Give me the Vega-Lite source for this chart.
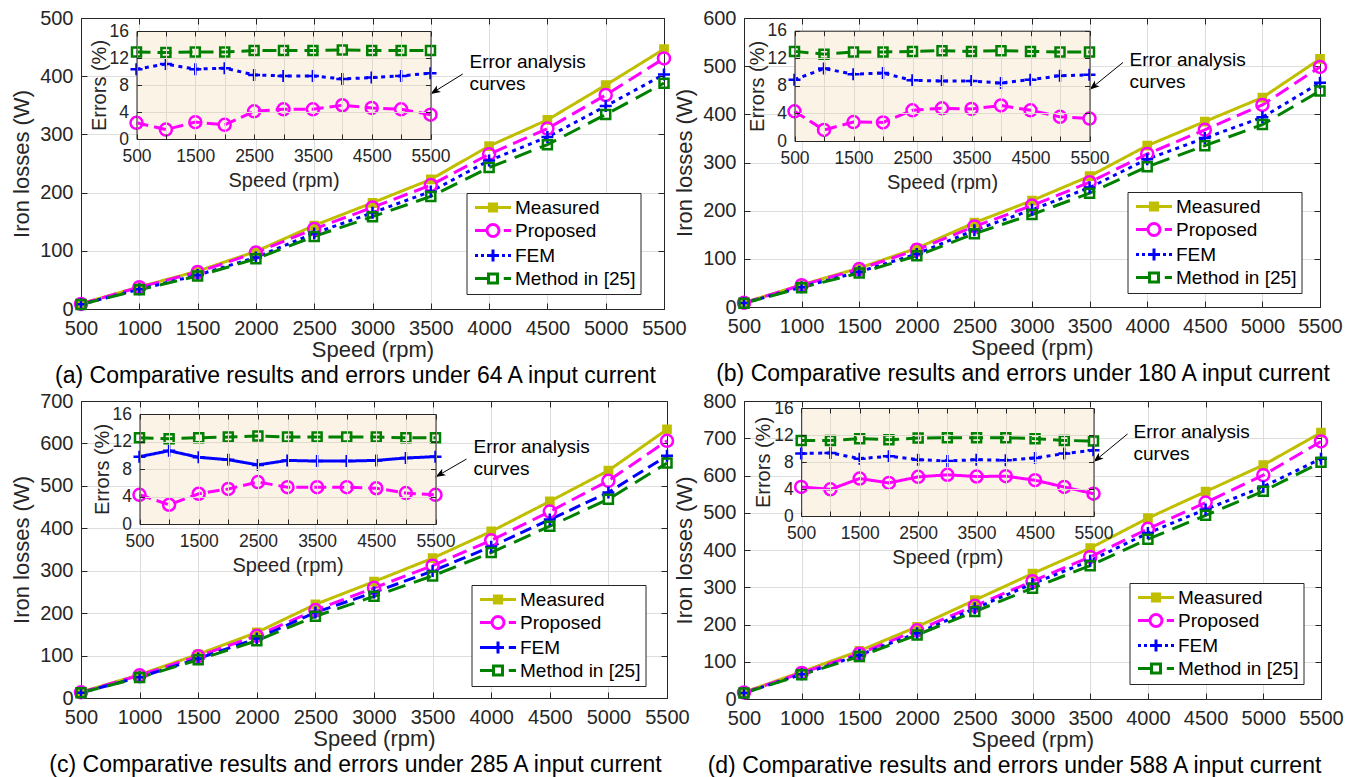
{
  "$schema": "https://vega.github.io/schema/vega-lite/v6.json",
  "background": "white",
  "padding": {"left": 10, "top": 8, "right": 0, "bottom": 0},
  "config": {
    "font": "Liberation Sans",
    "view": {"stroke": null, "fill": "#f6f6f6"},
    "axis": {
      "labelFont": "Liberation Sans", "titleFont": "Liberation Sans",
      "labelColor": "#262626", "titleColor": "#262626", "titleFontWeight": "normal",
      "domainColor": "#262626", "tickColor": "#262626", "gridColor": "#dedede",
      "domainWidth": 1, "tickWidth": 1, "gridWidth": 1,
      "labelFlush": false, "labelOverlap": false
    },
    "title": {"font": "Liberation Sans", "fontSize": 23, "fontWeight": "normal", "color": "#000000"},
    "legend": {
      "orient": "none", "title": null, "fillColor": "#ffffff", "strokeColor": "#262626",
      "padding": 5, "labelFont": "Liberation Sans", "labelFontSize": 19, "labelColor": "#000000",
      "symbolSize": 144, "symbolStrokeWidth": 3, "symbolOffset": 12, "labelOffset": 12.5,
      "rowPadding": 0, "labelLimit": 400, "zindex": 1
    }
  },
  "datasets": {
    "losses": [
      {"panel":"a","series":"Measured","speed":500,"loss":9},{"panel":"a","series":"Measured","speed":1000,"loss":38},{"panel":"a","series":"Measured","speed":1500,"loss":65},{"panel":"a","series":"Measured","speed":2000,"loss":99},{"panel":"a","series":"Measured","speed":2500,"loss":143.5},{"panel":"a","series":"Measured","speed":3000,"loss":182.5},{"panel":"a","series":"Measured","speed":3500,"loss":222.7},{"panel":"a","series":"Measured","speed":4000,"loss":280},{"panel":"a","series":"Measured","speed":4500,"loss":325},{"panel":"a","series":"Measured","speed":5000,"loss":384.6},{"panel":"a","series":"Measured","speed":5500,"loss":446.6},
      {"panel":"a","series":"Proposed","speed":500,"loss":8.8},{"panel":"a","series":"Proposed","speed":1000,"loss":37.5},{"panel":"a","series":"Proposed","speed":1500,"loss":63.4},{"panel":"a","series":"Proposed","speed":2000,"loss":96.9},{"panel":"a","series":"Proposed","speed":2500,"loss":137.6},{"panel":"a","series":"Proposed","speed":3000,"loss":174.5},{"panel":"a","series":"Proposed","speed":3500,"loss":212.9},{"panel":"a","series":"Proposed","speed":4000,"loss":266},{"panel":"a","series":"Proposed","speed":4500,"loss":310},{"panel":"a","series":"Proposed","speed":5000,"loss":367.7},{"panel":"a","series":"Proposed","speed":5500,"loss":430.5},
      {"panel":"a","series":"FEM","speed":500,"loss":8.1},{"panel":"a","series":"FEM","speed":1000,"loss":33.8},{"panel":"a","series":"FEM","speed":1500,"loss":58.3},{"panel":"a","series":"FEM","speed":2000,"loss":88.6},{"panel":"a","series":"FEM","speed":2500,"loss":129.9},{"panel":"a","series":"FEM","speed":3000,"loss":165.4},{"panel":"a","series":"FEM","speed":3500,"loss":201.9},{"panel":"a","series":"FEM","speed":4000,"loss":255.1},{"panel":"a","series":"FEM","speed":4500,"loss":295.4},{"panel":"a","series":"FEM","speed":5000,"loss":348.6},{"panel":"a","series":"FEM","speed":5500,"loss":403.1},
      {"panel":"a","series":"Method in [25]","speed":500,"loss":7.8},{"panel":"a","series":"Method in [25]","speed":1000,"loss":33.1},{"panel":"a","series":"Method in [25]","speed":1500,"loss":56.6},{"panel":"a","series":"Method in [25]","speed":2000,"loss":86.2},{"panel":"a","series":"Method in [25]","speed":2500,"loss":124.7},{"panel":"a","series":"Method in [25]","speed":3000,"loss":158.6},{"panel":"a","series":"Method in [25]","speed":3500,"loss":193.5},{"panel":"a","series":"Method in [25]","speed":4000,"loss":243},{"panel":"a","series":"Method in [25]","speed":4500,"loss":282.4},{"panel":"a","series":"Method in [25]","speed":5000,"loss":334.2},{"panel":"a","series":"Method in [25]","speed":5500,"loss":388.1},
      {"panel":"b","series":"Measured","speed":500,"loss":9},{"panel":"b","series":"Measured","speed":1000,"loss":46},{"panel":"b","series":"Measured","speed":1500,"loss":81},{"panel":"b","series":"Measured","speed":2000,"loss":122},{"panel":"b","series":"Measured","speed":2500,"loss":175},{"panel":"b","series":"Measured","speed":3000,"loss":221},{"panel":"b","series":"Measured","speed":3500,"loss":271.6},{"panel":"b","series":"Measured","speed":4000,"loss":335},{"panel":"b","series":"Measured","speed":4500,"loss":385},{"panel":"b","series":"Measured","speed":5000,"loss":434.8},{"panel":"b","series":"Measured","speed":5500,"loss":515},
      {"panel":"b","series":"Proposed","speed":500,"loss":8.6},{"panel":"b","series":"Proposed","speed":1000,"loss":45.3},{"panel":"b","series":"Proposed","speed":1500,"loss":78.8},{"panel":"b","series":"Proposed","speed":2000,"loss":118.7},{"panel":"b","series":"Proposed","speed":2500,"loss":167.2},{"panel":"b","series":"Proposed","speed":3000,"loss":210.5},{"panel":"b","series":"Proposed","speed":3500,"loss":259},{"panel":"b","series":"Proposed","speed":4000,"loss":317.7},{"panel":"b","series":"Proposed","speed":4500,"loss":367.9},{"panel":"b","series":"Proposed","speed":5000,"loss":419.6},{"panel":"b","series":"Proposed","speed":5500,"loss":498.3},
      {"panel":"b","series":"FEM","speed":500,"loss":8.2},{"panel":"b","series":"FEM","speed":1000,"loss":41.2},{"panel":"b","series":"FEM","speed":1500,"loss":73.1},{"panel":"b","series":"FEM","speed":2000,"loss":110},{"panel":"b","series":"FEM","speed":2500,"loss":159.6},{"panel":"b","series":"FEM","speed":3000,"loss":201.8},{"panel":"b","series":"FEM","speed":3500,"loss":248},{"panel":"b","series":"FEM","speed":4000,"loss":306.9},{"panel":"b","series":"FEM","speed":4500,"loss":350.7},{"panel":"b","series":"FEM","speed":5000,"loss":393.7},{"panel":"b","series":"FEM","speed":5500,"loss":465.6},
      {"panel":"b","series":"Method in [25]","speed":500,"loss":7.8},{"panel":"b","series":"Method in [25]","speed":1000,"loss":40.2},{"panel":"b","series":"Method in [25]","speed":1500,"loss":70.5},{"panel":"b","series":"Method in [25]","speed":2000,"loss":106.3},{"panel":"b","series":"Method in [25]","speed":2500,"loss":152.3},{"panel":"b","series":"Method in [25]","speed":3000,"loss":192},{"panel":"b","series":"Method in [25]","speed":3500,"loss":236.3},{"panel":"b","series":"Method in [25]","speed":4000,"loss":291.1},{"panel":"b","series":"Method in [25]","speed":4500,"loss":335},{"panel":"b","series":"Method in [25]","speed":5000,"loss":378.7},{"panel":"b","series":"Method in [25]","speed":5500,"loss":448.6},
      {"panel":"c","series":"Measured","speed":500,"loss":14},{"panel":"c","series":"Measured","speed":1000,"loss":55},{"panel":"c","series":"Measured","speed":1500,"loss":103},{"panel":"c","series":"Measured","speed":2000,"loss":154.5},{"panel":"c","series":"Measured","speed":2500,"loss":220.7},{"panel":"c","series":"Measured","speed":3000,"loss":274.3},{"panel":"c","series":"Measured","speed":3500,"loss":329.5},{"panel":"c","series":"Measured","speed":4000,"loss":392.6},{"panel":"c","series":"Measured","speed":4500,"loss":463.5},{"panel":"c","series":"Measured","speed":5000,"loss":536},{"panel":"c","series":"Measured","speed":5500,"loss":633},
      {"panel":"c","series":"Proposed","speed":500,"loss":13.4},{"panel":"c","series":"Proposed","speed":1000,"loss":53.5},{"panel":"c","series":"Proposed","speed":1500,"loss":98.5},{"panel":"c","series":"Proposed","speed":2000,"loss":146.6},{"panel":"c","series":"Proposed","speed":2500,"loss":207.2},{"panel":"c","series":"Proposed","speed":3000,"loss":259.6},{"panel":"c","series":"Proposed","speed":3500,"loss":311.9},{"panel":"c","series":"Proposed","speed":4000,"loss":371.6},{"panel":"c","series":"Proposed","speed":4500,"loss":439.4},{"panel":"c","series":"Proposed","speed":5000,"loss":511.9},{"panel":"c","series":"Proposed","speed":5500,"loss":606.1},
      {"panel":"c","series":"FEM","speed":500,"loss":12.6},{"panel":"c","series":"FEM","speed":1000,"loss":49.1},{"panel":"c","series":"FEM","speed":1500,"loss":93},{"panel":"c","series":"FEM","speed":2000,"loss":140},{"panel":"c","series":"FEM","speed":2500,"loss":201.7},{"panel":"c","series":"FEM","speed":3000,"loss":248.9},{"panel":"c","series":"FEM","speed":3500,"loss":299.3},{"panel":"c","series":"FEM","speed":4000,"loss":356.7},{"panel":"c","series":"FEM","speed":4500,"loss":420.6},{"panel":"c","series":"FEM","speed":5000,"loss":484.5},{"panel":"c","series":"FEM","speed":5500,"loss":571},
      {"panel":"c","series":"Method in [25]","speed":500,"loss":12.2},{"panel":"c","series":"Method in [25]","speed":1000,"loss":48.2},{"panel":"c","series":"Method in [25]","speed":1500,"loss":90.1},{"panel":"c","series":"Method in [25]","speed":2000,"loss":135},{"panel":"c","series":"Method in [25]","speed":2500,"loss":192.5},{"panel":"c","series":"Method in [25]","speed":3000,"loss":239.6},{"panel":"c","series":"Method in [25]","speed":3500,"loss":287.8},{"panel":"c","series":"Method in [25]","speed":4000,"loss":342.9},{"panel":"c","series":"Method in [25]","speed":4500,"loss":404.9},{"panel":"c","series":"Method in [25]","speed":5000,"loss":468.7},{"panel":"c","series":"Method in [25]","speed":5500,"loss":553.6},
      {"panel":"d","series":"Measured","speed":500,"loss":18},{"panel":"d","series":"Measured","speed":1000,"loss":73},{"panel":"d","series":"Measured","speed":1500,"loss":129},{"panel":"d","series":"Measured","speed":2000,"loss":194},{"panel":"d","series":"Measured","speed":2500,"loss":265.5},{"panel":"d","series":"Measured","speed":3000,"loss":336.7},{"panel":"d","series":"Measured","speed":3500,"loss":405},{"panel":"d","series":"Measured","speed":4000,"loss":485.5},{"panel":"d","series":"Measured","speed":4500,"loss":556.8},{"panel":"d","series":"Measured","speed":5000,"loss":628},{"panel":"d","series":"Measured","speed":5500,"loss":715},
      {"panel":"d","series":"Proposed","speed":500,"loss":17.2},{"panel":"d","series":"Proposed","speed":1000,"loss":70.1},{"panel":"d","series":"Proposed","speed":1500,"loss":121.8},{"panel":"d","series":"Proposed","speed":2000,"loss":184.5},{"panel":"d","series":"Proposed","speed":2500,"loss":250.1},{"panel":"d","series":"Proposed","speed":3000,"loss":316.2},{"panel":"d","series":"Proposed","speed":3500,"loss":381.3},{"panel":"d","series":"Proposed","speed":4000,"loss":456.9},{"panel":"d","series":"Proposed","speed":4500,"loss":527.3},{"panel":"d","series":"Proposed","speed":5000,"loss":601},{"panel":"d","series":"Proposed","speed":5500,"loss":691.4},
      {"panel":"d","series":"FEM","speed":500,"loss":16.3},{"panel":"d","series":"FEM","speed":1000,"loss":66.2},{"panel":"d","series":"FEM","speed":1500,"loss":118},{"panel":"d","series":"FEM","speed":2000,"loss":176.8},{"panel":"d","series":"FEM","speed":2500,"loss":243.3},{"panel":"d","series":"FEM","speed":3000,"loss":309.3},{"panel":"d","series":"FEM","speed":3500,"loss":371.2},{"panel":"d","series":"FEM","speed":4000,"loss":445.4},{"panel":"d","series":"FEM","speed":4500,"loss":508.9},{"panel":"d","series":"FEM","speed":5000,"loss":569.9},{"panel":"d","series":"FEM","speed":5500,"loss":645.3},
      {"panel":"d","series":"Method in [25]","speed":500,"loss":16},{"panel":"d","series":"Method in [25]","speed":1000,"loss":64.8},{"panel":"d","series":"Method in [25]","speed":1500,"loss":114.2},{"panel":"d","series":"Method in [25]","speed":2000,"loss":172.1},{"panel":"d","series":"Method in [25]","speed":2500,"loss":234.8},{"panel":"d","series":"Method in [25]","speed":3000,"loss":297.6},{"panel":"d","series":"Method in [25]","speed":3500,"loss":358},{"panel":"d","series":"Method in [25]","speed":4000,"loss":429.1},{"panel":"d","series":"Method in [25]","speed":4500,"loss":493},{"panel":"d","series":"Method in [25]","speed":5000,"loss":557.7},{"panel":"d","series":"Method in [25]","speed":5500,"loss":635.6}
    ],
    "errors": [
      {"panel":"a","series":"Proposed","speed":500,"err":2.4},{"panel":"a","series":"Proposed","speed":1000,"err":1.4},{"panel":"a","series":"Proposed","speed":1500,"err":2.5},{"panel":"a","series":"Proposed","speed":2000,"err":2.1},{"panel":"a","series":"Proposed","speed":2500,"err":4.1},{"panel":"a","series":"Proposed","speed":3000,"err":4.4},{"panel":"a","series":"Proposed","speed":3500,"err":4.4},{"panel":"a","series":"Proposed","speed":4000,"err":5.0},{"panel":"a","series":"Proposed","speed":4500,"err":4.6},{"panel":"a","series":"Proposed","speed":5000,"err":4.4},{"panel":"a","series":"Proposed","speed":5500,"err":3.6},
      {"panel":"a","series":"FEM","speed":500,"err":10.35},{"panel":"a","series":"FEM","speed":1000,"err":11.1},{"panel":"a","series":"FEM","speed":1500,"err":10.35},{"panel":"a","series":"FEM","speed":2000,"err":10.5},{"panel":"a","series":"FEM","speed":2500,"err":9.5},{"panel":"a","series":"FEM","speed":3000,"err":9.35},{"panel":"a","series":"FEM","speed":3500,"err":9.35},{"panel":"a","series":"FEM","speed":4000,"err":8.9},{"panel":"a","series":"FEM","speed":4500,"err":9.1},{"panel":"a","series":"FEM","speed":5000,"err":9.35},{"panel":"a","series":"FEM","speed":5500,"err":9.75},
      {"panel":"a","series":"Method in [25]","speed":500,"err":12.9},{"panel":"a","series":"Method in [25]","speed":1000,"err":12.8},{"panel":"a","series":"Method in [25]","speed":1500,"err":12.9},{"panel":"a","series":"Method in [25]","speed":2000,"err":12.9},{"panel":"a","series":"Method in [25]","speed":2500,"err":13.1},{"panel":"a","series":"Method in [25]","speed":3000,"err":13.1},{"panel":"a","series":"Method in [25]","speed":3500,"err":13.1},{"panel":"a","series":"Method in [25]","speed":4000,"err":13.2},{"panel":"a","series":"Method in [25]","speed":4500,"err":13.1},{"panel":"a","series":"Method in [25]","speed":5000,"err":13.1},{"panel":"a","series":"Method in [25]","speed":5500,"err":13.1},
      {"panel":"b","series":"Proposed","speed":500,"err":4.3},{"panel":"b","series":"Proposed","speed":1000,"err":1.6},{"panel":"b","series":"Proposed","speed":1500,"err":2.75},{"panel":"b","series":"Proposed","speed":2000,"err":2.7},{"panel":"b","series":"Proposed","speed":2500,"err":4.45},{"panel":"b","series":"Proposed","speed":3000,"err":4.75},{"panel":"b","series":"Proposed","speed":3500,"err":4.65},{"panel":"b","series":"Proposed","speed":4000,"err":5.15},{"panel":"b","series":"Proposed","speed":4500,"err":4.45},{"panel":"b","series":"Proposed","speed":5000,"err":3.5},{"panel":"b","series":"Proposed","speed":5500,"err":3.25},
      {"panel":"b","series":"FEM","speed":500,"err":8.9},{"panel":"b","series":"FEM","speed":1000,"err":10.5},{"panel":"b","series":"FEM","speed":1500,"err":9.7},{"panel":"b","series":"FEM","speed":2000,"err":9.85},{"panel":"b","series":"FEM","speed":2500,"err":8.8},{"panel":"b","series":"FEM","speed":3000,"err":8.7},{"panel":"b","series":"FEM","speed":3500,"err":8.7},{"panel":"b","series":"FEM","speed":4000,"err":8.4},{"panel":"b","series":"FEM","speed":4500,"err":8.9},{"panel":"b","series":"FEM","speed":5000,"err":9.45},{"panel":"b","series":"FEM","speed":5500,"err":9.6},
      {"panel":"b","series":"Method in [25]","speed":500,"err":13.0},{"panel":"b","series":"Method in [25]","speed":1000,"err":12.6},{"panel":"b","series":"Method in [25]","speed":1500,"err":12.9},{"panel":"b","series":"Method in [25]","speed":2000,"err":12.9},{"panel":"b","series":"Method in [25]","speed":2500,"err":13.0},{"panel":"b","series":"Method in [25]","speed":3000,"err":13.1},{"panel":"b","series":"Method in [25]","speed":3500,"err":13.0},{"panel":"b","series":"Method in [25]","speed":4000,"err":13.1},{"panel":"b","series":"Method in [25]","speed":4500,"err":13.0},{"panel":"b","series":"Method in [25]","speed":5000,"err":12.9},{"panel":"b","series":"Method in [25]","speed":5500,"err":12.9},
      {"panel":"c","series":"Proposed","speed":500,"err":4.25},{"panel":"c","series":"Proposed","speed":1000,"err":2.8},{"panel":"c","series":"Proposed","speed":1500,"err":4.4},{"panel":"c","series":"Proposed","speed":2000,"err":5.1},{"panel":"c","series":"Proposed","speed":2500,"err":6.1},{"panel":"c","series":"Proposed","speed":3000,"err":5.35},{"panel":"c","series":"Proposed","speed":3500,"err":5.35},{"panel":"c","series":"Proposed","speed":4000,"err":5.35},{"panel":"c","series":"Proposed","speed":4500,"err":5.2},{"panel":"c","series":"Proposed","speed":5000,"err":4.5},{"panel":"c","series":"Proposed","speed":5500,"err":4.25},
      {"panel":"c","series":"FEM","speed":500,"err":9.8},{"panel":"c","series":"FEM","speed":1000,"err":10.65},{"panel":"c","series":"FEM","speed":1500,"err":9.7},{"panel":"c","series":"FEM","speed":2000,"err":9.35},{"panel":"c","series":"FEM","speed":2500,"err":8.6},{"panel":"c","series":"FEM","speed":3000,"err":9.25},{"panel":"c","series":"FEM","speed":3500,"err":9.15},{"panel":"c","series":"FEM","speed":4000,"err":9.15},{"panel":"c","series":"FEM","speed":4500,"err":9.25},{"panel":"c","series":"FEM","speed":5000,"err":9.6},{"panel":"c","series":"FEM","speed":5500,"err":9.8},
      {"panel":"c","series":"Method in [25]","speed":500,"err":12.55},{"panel":"c","series":"Method in [25]","speed":1000,"err":12.4},{"panel":"c","series":"Method in [25]","speed":1500,"err":12.55},{"panel":"c","series":"Method in [25]","speed":2000,"err":12.65},{"panel":"c","series":"Method in [25]","speed":2500,"err":12.8},{"panel":"c","series":"Method in [25]","speed":3000,"err":12.65},{"panel":"c","series":"Method in [25]","speed":3500,"err":12.65},{"panel":"c","series":"Method in [25]","speed":4000,"err":12.65},{"panel":"c","series":"Method in [25]","speed":4500,"err":12.65},{"panel":"c","series":"Method in [25]","speed":5000,"err":12.55},{"panel":"c","series":"Method in [25]","speed":5500,"err":12.55},
      {"panel":"d","series":"Proposed","speed":500,"err":4.3},{"panel":"d","series":"Proposed","speed":1000,"err":3.95},{"panel":"d","series":"Proposed","speed":1500,"err":5.55},{"panel":"d","series":"Proposed","speed":2000,"err":4.9},{"panel":"d","series":"Proposed","speed":2500,"err":5.8},{"panel":"d","series":"Proposed","speed":3000,"err":6.1},{"panel":"d","series":"Proposed","speed":3500,"err":5.85},{"panel":"d","series":"Proposed","speed":4000,"err":5.9},{"panel":"d","series":"Proposed","speed":4500,"err":5.3},{"panel":"d","series":"Proposed","speed":5000,"err":4.3},{"panel":"d","series":"Proposed","speed":5500,"err":3.3},
      {"panel":"d","series":"FEM","speed":500,"err":9.25},{"panel":"d","series":"FEM","speed":1000,"err":9.35},{"panel":"d","series":"FEM","speed":1500,"err":8.5},{"panel":"d","series":"FEM","speed":2000,"err":8.85},{"panel":"d","series":"FEM","speed":2500,"err":8.35},{"panel":"d","series":"FEM","speed":3000,"err":8.15},{"panel":"d","series":"FEM","speed":3500,"err":8.35},{"panel":"d","series":"FEM","speed":4000,"err":8.25},{"panel":"d","series":"FEM","speed":4500,"err":8.6},{"panel":"d","series":"FEM","speed":5000,"err":9.25},{"panel":"d","series":"FEM","speed":5500,"err":9.75},
      {"panel":"d","series":"Method in [25]","speed":500,"err":11.2},{"panel":"d","series":"Method in [25]","speed":1000,"err":11.2},{"panel":"d","series":"Method in [25]","speed":1500,"err":11.45},{"panel":"d","series":"Method in [25]","speed":2000,"err":11.3},{"panel":"d","series":"Method in [25]","speed":2500,"err":11.55},{"panel":"d","series":"Method in [25]","speed":3000,"err":11.6},{"panel":"d","series":"Method in [25]","speed":3500,"err":11.6},{"panel":"d","series":"Method in [25]","speed":4000,"err":11.6},{"panel":"d","series":"Method in [25]","speed":4500,"err":11.45},{"panel":"d","series":"Method in [25]","speed":5000,"err":11.2},{"panel":"d","series":"Method in [25]","speed":5500,"err":11.1}
    ]
  },
  "columns": 2,
  "spacing": {"row": 92, "column": 77},
  "bounds": "flush",
  "resolve": {"scale": {"color": "independent", "stroke": "independent", "fill": "independent", "shape": "independent", "strokeDash": "independent"}},
  "concat": [
    {
      "width": 583, "height": 291,
      "title": {"text": "(a) Comparative results and errors under 64 A input current", "orient": "bottom", "anchor": "middle", "frame": "group", "offset": 5, "dx": -17},
      "resolve": {"scale": {"x": "independent", "y": "independent", "color": "independent", "stroke": "independent", "fill": "independent", "shape": "independent", "strokeDash": "independent"}, "axis": {"x": "independent", "y": "independent"}},
      "layer": [
        {
          "resolve": {"scale": {"color": "independent", "stroke": "independent", "fill": "independent", "shape": "independent", "strokeDash": "independent"}, "axis": {"x": "independent", "y": "independent"}},
          "layer": [
            {
              "data": {"name": "losses"},
              "transform": [{"filter": "datum.panel === 'a'"}],
              "mark": {"type": "line", "strokeWidth": 3},
              "encoding": {
                "x": {"field": "speed", "type": "quantitative", "scale": {"domain": [500, 5500], "nice": false, "zero": false},
                      "axis": {"orient": "bottom", "values": [500,1000,1500,2000,2500,3000,3500,4000,4500,5000,5500], "format": "d", "title": "Speed (rpm)", "labelFontSize": 20, "titleFontSize": 22, "tickSize": -6, "labelPadding": 15, "titlePadding": 1, "grid": true}},
                "y": {"field": "loss", "type": "quantitative", "scale": {"domain": [0, 500], "nice": false},
                      "axis": {"orient": "left", "values": [0,100,200,300,400,500], "title": "Iron losses (W)", "labelFontSize": 20, "titleFontSize": 22, "tickSize": -6, "labelPadding": 14, "titlePadding": 6, "grid": true}},
                "color": {"field": "series", "type": "nominal", "scale": {"domain": ["Measured","Proposed","FEM","Method in [25]"], "range": ["#bfbf00","#ff00ff","#0000ff","#008000"]}, "legend": null},
                "strokeDash": {"field": "series", "type": "nominal", "scale": {"domain": ["Measured","Proposed","FEM","Method in [25]"], "range": [[1,0],[15,7],[4,4.5],[18,9]]}, "legend": null}
              }
            },
            {
              "data": {"name": "losses"},
              "transform": [{"filter": "datum.panel === 'a'"}],
              "mark": {"type": "point", "strokeWidth": 2.5, "size": 144, "opacity": 1},
              "encoding": {
                "x": {"field": "speed", "type": "quantitative", "scale": {"domain": [500, 5500], "nice": false, "zero": false},
                      "axis": {"orient": "top", "values": [500,1000,1500,2000,2500,3000,3500,4000,4500,5000,5500], "labels": false, "title": null, "tickSize": -6, "grid": false}},
                "y": {"field": "loss", "type": "quantitative", "scale": {"domain": [0, 500], "nice": false},
                      "axis": {"orient": "right", "values": [0,100,200,300,400,500], "labels": false, "title": null, "tickSize": -6, "grid": false}},
                "shape": {"field": "series", "type": "nominal", "scale": {"domain": ["Measured","Proposed","FEM","Method in [25]"], "range": ["M-0.6,-0.6H0.6V0.6H-0.6Z","M1,0A1,1 0 1,1 -1,0A1,1 0 1,1 1,0Z","M-1,0H1M0,-1V1","M-0.75,-0.75H0.75V0.75H-0.75Z"]}, "legend": null},
                "stroke": {"field": "series", "type": "nominal", "scale": {"domain": ["Measured","Proposed","FEM","Method in [25]"], "range": ["#bfbf00","#ff00ff","#0000ff","#008000"]}, "legend": null},
                "fill": {"field": "series", "type": "nominal", "scale": {"domain": ["Measured","Proposed","FEM","Method in [25]"], "range": ["#bfbf00","transparent","transparent","transparent"]}, "legend": null}
              }
            },
            {
              "data": {"name": "losses"},
              "transform": [{"filter": "datum.panel === 'key'"}],
              "mark": {"type": "point", "strokeWidth": 3, "size": 144, "opacity": 1},
              "encoding": {
                "color": {"field": "series", "type": "nominal", "scale": {"domain": ["Measured","Proposed","FEM","Method in [25]"], "range": ["#bfbf00","#ff00ff","#0000ff","#008000"]}, "legend": {"legendX": 385.5, "legendY": 175}},
                "shape": {"field": "series", "type": "nominal", "scale": {"domain": ["Measured","Proposed","FEM","Method in [25]"], "range": ["M-3,0H3M-0.6,-0.6H0.6V0.6H-0.6Z","M-3,0H-1M1.8,0H3M1,0A1,1 0 1,1 -1,0A1,1 0 1,1 1,0Z","M-3,0H-2.5M-2,0H-1.5M-1,0H1M0,-1V1M1.5,0H2M2.5,0H3","M-3,0H-0.75M1.8,0H3M-0.75,-0.75H0.75V0.75H-0.75Z"]}, "legend": {"legendX": 385.5, "legendY": 175}},
                "fill": {"field": "series", "type": "nominal", "scale": {"domain": ["Measured","Proposed","FEM","Method in [25]"], "range": ["#bfbf00","transparent","transparent","transparent"]}, "legend": {"legendX": 385.5, "legendY": 175}}
              }
            }
          ]
        },
        {
          "resolve": {"axis": {"x": "independent", "y": "independent"}},
          "layer": [
            {
              "data": {"values": [{}]},
              "mark": {"type": "rect", "fill": "#fcf3e7"},
              "encoding": {
                "x": {"datum": 500, "type": "quantitative", "scale": {"domain": [500, 5500], "range": [55.5, 349.5], "nice": false, "zero": false}, "axis": null},
                "x2": {"datum": 5500},
                "y": {"datum": 0, "type": "quantitative", "scale": {"domain": [0, 16], "range": [121, 13], "nice": false}, "axis": null},
                "y2": {"datum": 16}
              }
            },
            {
              "data": {"name": "errors"},
              "transform": [{"filter": "datum.panel === 'a'"}],
              "mark": {"type": "line", "strokeWidth": 3},
              "encoding": {
                "x": {"field": "speed", "type": "quantitative", "scale": {"domain": [500, 5500], "range": [55.5, 349.5], "nice": false, "zero": false},
                      "axis": {"orient": "bottom", "offset": -170, "values": [500,1000,1500,2000,2500,3000,3500,4000,4500,5000,5500], "format": "d", "labelExpr": "datum.value % 1000 === 500 ? datum.label : ''", "title": "Speed (rpm)", "labelFontSize": 17.5, "titleFontSize": 20, "tickSize": -5, "labelPadding": 13, "titlePadding": 6, "grid": false, "zindex": 1}},
                "y": {"field": "err", "type": "quantitative", "scale": {"domain": [0, 16], "range": [121, 13], "nice": false},
                      "axis": {"orient": "left", "offset": -55.5, "values": [0,4,8,12,16], "title": "Errors (%)", "labelFontSize": 17.5, "titleFontSize": 20, "tickSize": -5, "labelPadding": 13, "titlePadding": 0, "grid": true, "gridColor": "#e0d9ce", "zindex": 1}},
                "stroke": {"field": "series", "type": "nominal", "scale": {"domain": ["Measured","Proposed","FEM","Method in [25]"], "range": ["#bfbf00","#ff00ff","#0000ff","#008000"]}, "legend": null},
                "strokeDash": {"field": "series", "type": "nominal", "scale": {"domain": ["Proposed","FEM","Method in [25]"], "range": [[12,6],[4,4.5],[14,7]]}, "legend": null}
              }
            },
            {
              "data": {"name": "errors"},
              "transform": [{"filter": "datum.panel === 'a'"}],
              "mark": {"type": "point", "strokeWidth": 2.5, "size": 144, "opacity": 1},
              "encoding": {
                "x": {"field": "speed", "type": "quantitative", "scale": {"domain": [500, 5500], "range": [55.5, 349.5], "nice": false, "zero": false},
                      "axis": {"orient": "top", "offset": -13, "values": [500,1000,1500,2000,2500,3000,3500,4000,4500,5000,5500], "labels": false, "title": null, "tickSize": -5, "grid": true, "gridColor": "#e0d9ce", "zindex": 1}},
                "y": {"field": "err", "type": "quantitative", "scale": {"domain": [0, 16], "range": [121, 13], "nice": false},
                      "axis": {"orient": "right", "offset": -233.5, "values": [0,4,8,12,16], "labels": false, "title": null, "tickSize": -5, "grid": false, "zindex": 1}},
                "shape": {"field": "series", "type": "nominal", "scale": {"domain": ["Measured","Proposed","FEM","Method in [25]"], "range": ["M-0.6,-0.6H0.6V0.6H-0.6Z","M1,0A1,1 0 1,1 -1,0A1,1 0 1,1 1,0Z","M-1,0H1M0,-1V1","M-0.75,-0.75H0.75V0.75H-0.75Z"]}, "legend": null},
                "stroke": {"field": "series", "type": "nominal", "scale": {"domain": ["Measured","Proposed","FEM","Method in [25]"], "range": ["#bfbf00","#ff00ff","#0000ff","#008000"]}, "legend": null},
                "fill": {"field": "series", "type": "nominal", "scale": {"domain": ["Measured","Proposed","FEM","Method in [25]"], "range": ["#bfbf00","transparent","transparent","transparent"]}, "legend": null}
              }
            },
            {
              "data": {"values": [{}]},
              "mark": {"type": "text", "align": "left", "baseline": "alphabetic", "fontSize": 19, "lineHeight": 22, "color": "#000000"},
              "encoding": {
                "x": {"datum": 6163, "type": "quantitative", "scale": {"domain": [500, 5500], "range": [55.5, 349.5], "nice": false, "zero": false}, "axis": null},
                "y": {"datum": 10.55, "type": "quantitative", "scale": {"domain": [0, 16], "range": [121, 13], "nice": false}, "axis": null},
                "text": {"value": ["Error analysis", "curves"]}
              }
            },
            {
              "data": {"values": [{}]},
              "mark": {"type": "rule", "color": "#000000", "strokeWidth": 1},
              "encoding": {
                "x": {"datum": 6049, "type": "quantitative", "scale": {"domain": [500, 5500], "range": [55.5, 349.5], "nice": false, "zero": false}, "axis": null},
                "y": {"datum": 9.63, "type": "quantitative", "scale": {"domain": [0, 16], "range": [121, 13], "nice": false}, "axis": null},
                "x2": {"datum": 5500}, "y2": {"datum": 6.67}
              }
            },
            {
              "data": {"values": [{}]},
              "mark": {"type": "point", "shape": "M0,0L-1,-0.38L-0.75,0L-1,0.38Z", "filled": true, "color": "#000000", "size": 400, "angle": 148, "opacity": 1},
              "encoding": {
                "x": {"datum": 5500, "type": "quantitative", "scale": {"domain": [500, 5500], "range": [55.5, 349.5], "nice": false, "zero": false}, "axis": null},
                "y": {"datum": 6.67, "type": "quantitative", "scale": {"domain": [0, 16], "range": [121, 13], "nice": false}, "axis": null}
              }
            }
          ]
        }
      ]
    },
    {
      "width": 576, "height": 289,
      "title": {"text": "(b) Comparative results and errors under 180 A input current", "orient": "bottom", "anchor": "middle", "frame": "group", "offset": 5, "dx": -9},
      "resolve": {"scale": {"x": "independent", "y": "independent", "color": "independent", "stroke": "independent", "fill": "independent", "shape": "independent", "strokeDash": "independent"}, "axis": {"x": "independent", "y": "independent"}},
      "layer": [
        {
          "resolve": {"scale": {"color": "independent", "stroke": "independent", "fill": "independent", "shape": "independent", "strokeDash": "independent"}, "axis": {"x": "independent", "y": "independent"}},
          "layer": [
            {
              "data": {"name": "losses"},
              "transform": [{"filter": "datum.panel === 'b'"}],
              "mark": {"type": "line", "strokeWidth": 3},
              "encoding": {
                "x": {"field": "speed", "type": "quantitative", "scale": {"domain": [500, 5500], "nice": false, "zero": false},
                      "axis": {"orient": "bottom", "values": [500,1000,1500,2000,2500,3000,3500,4000,4500,5000,5500], "format": "d", "title": "Speed (rpm)", "labelFontSize": 20, "titleFontSize": 22, "tickSize": -6, "labelPadding": 15, "titlePadding": 1, "grid": true}},
                "y": {"field": "loss", "type": "quantitative", "scale": {"domain": [0, 600], "nice": false},
                      "axis": {"orient": "left", "values": [0,100,200,300,400,500,600], "title": "Iron losses (W)", "labelFontSize": 20, "titleFontSize": 22, "tickSize": -6, "labelPadding": 14, "titlePadding": 6, "grid": true}},
                "color": {"field": "series", "type": "nominal", "scale": {"domain": ["Measured","Proposed","FEM","Method in [25]"], "range": ["#bfbf00","#ff00ff","#0000ff","#008000"]}, "legend": null},
                "strokeDash": {"field": "series", "type": "nominal", "scale": {"domain": ["Measured","Proposed","FEM","Method in [25]"], "range": [[1,0],[15,7],[4,4.5],[18,9]]}, "legend": null}
              }
            },
            {
              "data": {"name": "losses"},
              "transform": [{"filter": "datum.panel === 'b'"}],
              "mark": {"type": "point", "strokeWidth": 2.5, "size": 144, "opacity": 1},
              "encoding": {
                "x": {"field": "speed", "type": "quantitative", "scale": {"domain": [500, 5500], "nice": false, "zero": false},
                      "axis": {"orient": "top", "values": [500,1000,1500,2000,2500,3000,3500,4000,4500,5000,5500], "labels": false, "title": null, "tickSize": -6, "grid": false}},
                "y": {"field": "loss", "type": "quantitative", "scale": {"domain": [0, 600], "nice": false},
                      "axis": {"orient": "right", "values": [0,100,200,300,400,500,600], "labels": false, "title": null, "tickSize": -6, "grid": false}},
                "shape": {"field": "series", "type": "nominal", "scale": {"domain": ["Measured","Proposed","FEM","Method in [25]"], "range": ["M-0.6,-0.6H0.6V0.6H-0.6Z","M1,0A1,1 0 1,1 -1,0A1,1 0 1,1 1,0Z","M-1,0H1M0,-1V1","M-0.75,-0.75H0.75V0.75H-0.75Z"]}, "legend": null},
                "stroke": {"field": "series", "type": "nominal", "scale": {"domain": ["Measured","Proposed","FEM","Method in [25]"], "range": ["#bfbf00","#ff00ff","#0000ff","#008000"]}, "legend": null},
                "fill": {"field": "series", "type": "nominal", "scale": {"domain": ["Measured","Proposed","FEM","Method in [25]"], "range": ["#bfbf00","transparent","transparent","transparent"]}, "legend": null}
              }
            },
            {
              "data": {"name": "losses"},
              "transform": [{"filter": "datum.panel === 'key'"}],
              "mark": {"type": "point", "strokeWidth": 3, "size": 144, "opacity": 1},
              "encoding": {
                "color": {"field": "series", "type": "nominal", "scale": {"domain": ["Measured","Proposed","FEM","Method in [25]"], "range": ["#bfbf00","#ff00ff","#0000ff","#008000"]}, "legend": {"legendX": 383.5, "legendY": 174}},
                "shape": {"field": "series", "type": "nominal", "scale": {"domain": ["Measured","Proposed","FEM","Method in [25]"], "range": ["M-3,0H3M-0.6,-0.6H0.6V0.6H-0.6Z","M-3,0H-1M1.8,0H3M1,0A1,1 0 1,1 -1,0A1,1 0 1,1 1,0Z","M-3,0H-2.5M-2,0H-1.5M-1,0H1M0,-1V1M1.5,0H2M2.5,0H3","M-3,0H-0.75M1.8,0H3M-0.75,-0.75H0.75V0.75H-0.75Z"]}, "legend": {"legendX": 383.5, "legendY": 174}},
                "fill": {"field": "series", "type": "nominal", "scale": {"domain": ["Measured","Proposed","FEM","Method in [25]"], "range": ["#bfbf00","transparent","transparent","transparent"]}, "legend": {"legendX": 383.5, "legendY": 174}}
              }
            }
          ]
        },
        {
          "resolve": {"axis": {"x": "independent", "y": "independent"}},
          "layer": [
            {
              "data": {"values": [{}]},
              "mark": {"type": "rect", "fill": "#fcf3e7"},
              "encoding": {
                "x": {"datum": 500, "type": "quantitative", "scale": {"domain": [500, 5500], "range": [50.5, 345.5], "nice": false, "zero": false}, "axis": null},
                "x2": {"datum": 5500},
                "y": {"datum": 0, "type": "quantitative", "scale": {"domain": [0, 16], "range": [123, 12.7], "nice": false}, "axis": null},
                "y2": {"datum": 16}
              }
            },
            {
              "data": {"name": "errors"},
              "transform": [{"filter": "datum.panel === 'b'"}],
              "mark": {"type": "line", "strokeWidth": 3},
              "encoding": {
                "x": {"field": "speed", "type": "quantitative", "scale": {"domain": [500, 5500], "range": [50.5, 345.5], "nice": false, "zero": false},
                      "axis": {"orient": "bottom", "offset": -166, "values": [500,1000,1500,2000,2500,3000,3500,4000,4500,5000,5500], "format": "d", "labelExpr": "datum.value % 1000 === 500 ? datum.label : ''", "title": "Speed (rpm)", "labelFontSize": 17.5, "titleFontSize": 20, "tickSize": -5, "labelPadding": 13, "titlePadding": 6, "grid": false, "zindex": 1}},
                "y": {"field": "err", "type": "quantitative", "scale": {"domain": [0, 16], "range": [123, 12.7], "nice": false},
                      "axis": {"orient": "left", "offset": -50.5, "values": [0,4,8,12,16], "title": "Errors (%)", "labelFontSize": 17.5, "titleFontSize": 20, "tickSize": -5, "labelPadding": 13, "titlePadding": 0, "grid": true, "gridColor": "#e0d9ce", "zindex": 1}},
                "stroke": {"field": "series", "type": "nominal", "scale": {"domain": ["Measured","Proposed","FEM","Method in [25]"], "range": ["#bfbf00","#ff00ff","#0000ff","#008000"]}, "legend": null},
                "strokeDash": {"field": "series", "type": "nominal", "scale": {"domain": ["Proposed","FEM","Method in [25]"], "range": [[12,6],[4,4.5],[14,7]]}, "legend": null}
              }
            },
            {
              "data": {"name": "errors"},
              "transform": [{"filter": "datum.panel === 'b'"}],
              "mark": {"type": "point", "strokeWidth": 2.5, "size": 144, "opacity": 1},
              "encoding": {
                "x": {"field": "speed", "type": "quantitative", "scale": {"domain": [500, 5500], "range": [50.5, 345.5], "nice": false, "zero": false},
                      "axis": {"orient": "top", "offset": -12.7, "values": [500,1000,1500,2000,2500,3000,3500,4000,4500,5000,5500], "labels": false, "title": null, "tickSize": -5, "grid": true, "gridColor": "#e0d9ce", "zindex": 1}},
                "y": {"field": "err", "type": "quantitative", "scale": {"domain": [0, 16], "range": [123, 12.7], "nice": false},
                      "axis": {"orient": "right", "offset": -230.5, "values": [0,4,8,12,16], "labels": false, "title": null, "tickSize": -5, "grid": false, "zindex": 1}},
                "shape": {"field": "series", "type": "nominal", "scale": {"domain": ["Measured","Proposed","FEM","Method in [25]"], "range": ["M-0.6,-0.6H0.6V0.6H-0.6Z","M1,0A1,1 0 1,1 -1,0A1,1 0 1,1 1,0Z","M-1,0H1M0,-1V1","M-0.75,-0.75H0.75V0.75H-0.75Z"]}, "legend": null},
                "stroke": {"field": "series", "type": "nominal", "scale": {"domain": ["Measured","Proposed","FEM","Method in [25]"], "range": ["#bfbf00","#ff00ff","#0000ff","#008000"]}, "legend": null},
                "fill": {"field": "series", "type": "nominal", "scale": {"domain": ["Measured","Proposed","FEM","Method in [25]"], "range": ["#bfbf00","transparent","transparent","transparent"]}, "legend": null}
              }
            },
            {
              "data": {"values": [{}]},
              "mark": {"type": "text", "align": "left", "baseline": "alphabetic", "fontSize": 19, "lineHeight": 22, "color": "#000000"},
              "encoding": {
                "x": {"datum": 6178, "type": "quantitative", "scale": {"domain": [500, 5500], "range": [50.5, 345.5], "nice": false, "zero": false}, "axis": null},
                "y": {"datum": 10.9, "type": "quantitative", "scale": {"domain": [0, 16], "range": [123, 12.7], "nice": false}, "axis": null},
                "text": {"value": ["Error analysis", "curves"]}
              }
            },
            {
              "data": {"values": [{}]},
              "mark": {"type": "rule", "color": "#000000", "strokeWidth": 1},
              "encoding": {
                "x": {"datum": 6068, "type": "quantitative", "scale": {"domain": [500, 5500], "range": [50.5, 345.5], "nice": false, "zero": false}, "axis": null},
                "y": {"datum": 11.4, "type": "quantitative", "scale": {"domain": [0, 16], "range": [123, 12.7], "nice": false}, "axis": null},
                "x2": {"datum": 5500}, "y2": {"datum": 7.45}
              }
            },
            {
              "data": {"values": [{}]},
              "mark": {"type": "point", "shape": "M0,0L-1,-0.38L-0.75,0L-1,0.38Z", "filled": true, "color": "#000000", "size": 400, "angle": 141, "opacity": 1},
              "encoding": {
                "x": {"datum": 5500, "type": "quantitative", "scale": {"domain": [500, 5500], "range": [50.5, 345.5], "nice": false, "zero": false}, "axis": null},
                "y": {"datum": 7.45, "type": "quantitative", "scale": {"domain": [0, 16], "range": [123, 12.7], "nice": false}, "axis": null}
              }
            }
          ]
        }
      ]
    },
    {
      "width": 586, "height": 297,
      "title": {"text": "(c) Comparative results and errors under 285 A input current", "orient": "bottom", "anchor": "middle", "frame": "group", "offset": 5, "dx": -18.5},
      "resolve": {"scale": {"x": "independent", "y": "independent", "color": "independent", "stroke": "independent", "fill": "independent", "shape": "independent", "strokeDash": "independent"}, "axis": {"x": "independent", "y": "independent"}},
      "layer": [
        {
          "resolve": {"scale": {"color": "independent", "stroke": "independent", "fill": "independent", "shape": "independent", "strokeDash": "independent"}, "axis": {"x": "independent", "y": "independent"}},
          "layer": [
            {
              "data": {"name": "losses"},
              "transform": [{"filter": "datum.panel === 'c'"}],
              "mark": {"type": "line", "strokeWidth": 3},
              "encoding": {
                "x": {"field": "speed", "type": "quantitative", "scale": {"domain": [500, 5500], "nice": false, "zero": false},
                      "axis": {"orient": "bottom", "values": [500,1000,1500,2000,2500,3000,3500,4000,4500,5000,5500], "format": "d", "title": "Speed (rpm)", "labelFontSize": 20, "titleFontSize": 22, "tickSize": -6, "labelPadding": 15, "titlePadding": 1, "grid": true}},
                "y": {"field": "loss", "type": "quantitative", "scale": {"domain": [0, 700], "nice": false},
                      "axis": {"orient": "left", "values": [0,100,200,300,400,500,600,700], "title": "Iron losses (W)", "labelFontSize": 20, "titleFontSize": 22, "tickSize": -6, "labelPadding": 14, "titlePadding": 6, "grid": true}},
                "color": {"field": "series", "type": "nominal", "scale": {"domain": ["Measured","Proposed","FEM","Method in [25]"], "range": ["#bfbf00","#ff00ff","#0000ff","#008000"]}, "legend": null},
                "strokeDash": {"field": "series", "type": "nominal", "scale": {"domain": ["Measured","Proposed","FEM","Method in [25]"], "range": [[1,0],[15,7],[12,6],[18,9]]}, "legend": null}
              }
            },
            {
              "data": {"name": "losses"},
              "transform": [{"filter": "datum.panel === 'c'"}],
              "mark": {"type": "point", "strokeWidth": 2.5, "size": 144, "opacity": 1},
              "encoding": {
                "x": {"field": "speed", "type": "quantitative", "scale": {"domain": [500, 5500], "nice": false, "zero": false},
                      "axis": {"orient": "top", "values": [500,1000,1500,2000,2500,3000,3500,4000,4500,5000,5500], "labels": false, "title": null, "tickSize": -6, "grid": false}},
                "y": {"field": "loss", "type": "quantitative", "scale": {"domain": [0, 700], "nice": false},
                      "axis": {"orient": "right", "values": [0,100,200,300,400,500,600,700], "labels": false, "title": null, "tickSize": -6, "grid": false}},
                "shape": {"field": "series", "type": "nominal", "scale": {"domain": ["Measured","Proposed","FEM","Method in [25]"], "range": ["M-0.6,-0.6H0.6V0.6H-0.6Z","M1,0A1,1 0 1,1 -1,0A1,1 0 1,1 1,0Z","M-1,0H1M0,-1V1","M-0.75,-0.75H0.75V0.75H-0.75Z"]}, "legend": null},
                "stroke": {"field": "series", "type": "nominal", "scale": {"domain": ["Measured","Proposed","FEM","Method in [25]"], "range": ["#bfbf00","#ff00ff","#0000ff","#008000"]}, "legend": null},
                "fill": {"field": "series", "type": "nominal", "scale": {"domain": ["Measured","Proposed","FEM","Method in [25]"], "range": ["#bfbf00","transparent","transparent","transparent"]}, "legend": null}
              }
            },
            {
              "data": {"name": "losses"},
              "transform": [{"filter": "datum.panel === 'key'"}],
              "mark": {"type": "point", "strokeWidth": 3, "size": 144, "opacity": 1},
              "encoding": {
                "color": {"field": "series", "type": "nominal", "scale": {"domain": ["Measured","Proposed","FEM","Method in [25]"], "range": ["#bfbf00","#ff00ff","#0000ff","#008000"]}, "legend": {"legendX": 390.5, "legendY": 184}},
                "shape": {"field": "series", "type": "nominal", "scale": {"domain": ["Measured","Proposed","FEM","Method in [25]"], "range": ["M-3,0H3M-0.6,-0.6H0.6V0.6H-0.6Z","M-3,0H-1M1.8,0H3M1,0A1,1 0 1,1 -1,0A1,1 0 1,1 1,0Z","M-3,0H1M0,-1V1M1.8,0H3","M-3,0H-0.75M1.8,0H3M-0.75,-0.75H0.75V0.75H-0.75Z"]}, "legend": {"legendX": 390.5, "legendY": 184}},
                "fill": {"field": "series", "type": "nominal", "scale": {"domain": ["Measured","Proposed","FEM","Method in [25]"], "range": ["#bfbf00","transparent","transparent","transparent"]}, "legend": {"legendX": 390.5, "legendY": 184}}
              }
            }
          ]
        },
        {
          "resolve": {"axis": {"x": "independent", "y": "independent"}},
          "layer": [
            {
              "data": {"values": [{}]},
              "mark": {"type": "rect", "fill": "#fcf3e7"},
              "encoding": {
                "x": {"datum": 500, "type": "quantitative", "scale": {"domain": [500, 5500], "range": [58.5, 354.5], "nice": false, "zero": false}, "axis": null},
                "x2": {"datum": 5500},
                "y": {"datum": 0, "type": "quantitative", "scale": {"domain": [0, 16], "range": [123, 13], "nice": false}, "axis": null},
                "y2": {"datum": 16}
              }
            },
            {
              "data": {"name": "errors"},
              "transform": [{"filter": "datum.panel === 'c'"}],
              "mark": {"type": "line", "strokeWidth": 3},
              "encoding": {
                "x": {"field": "speed", "type": "quantitative", "scale": {"domain": [500, 5500], "range": [58.5, 354.5], "nice": false, "zero": false},
                      "axis": {"orient": "bottom", "offset": -174, "values": [500,1000,1500,2000,2500,3000,3500,4000,4500,5000,5500], "format": "d", "labelExpr": "datum.value % 1000 === 500 ? datum.label : ''", "title": "Speed (rpm)", "labelFontSize": 17.5, "titleFontSize": 20, "tickSize": -5, "labelPadding": 13, "titlePadding": 6, "grid": false, "zindex": 1}},
                "y": {"field": "err", "type": "quantitative", "scale": {"domain": [0, 16], "range": [123, 13], "nice": false},
                      "axis": {"orient": "left", "offset": -58.5, "values": [0,4,8,12,16], "title": "Errors (%)", "labelFontSize": 17.5, "titleFontSize": 20, "tickSize": -5, "labelPadding": 13, "titlePadding": 0, "grid": true, "gridColor": "#e0d9ce", "zindex": 1}},
                "stroke": {"field": "series", "type": "nominal", "scale": {"domain": ["Measured","Proposed","FEM","Method in [25]"], "range": ["#bfbf00","#ff00ff","#0000ff","#008000"]}, "legend": null},
                "strokeDash": {"field": "series", "type": "nominal", "scale": {"domain": ["Proposed","FEM","Method in [25]"], "range": [[12,6],[1,0],[14,7]]}, "legend": null}
              }
            },
            {
              "data": {"name": "errors"},
              "transform": [{"filter": "datum.panel === 'c'"}],
              "mark": {"type": "point", "strokeWidth": 2.5, "size": 144, "opacity": 1},
              "encoding": {
                "x": {"field": "speed", "type": "quantitative", "scale": {"domain": [500, 5500], "range": [58.5, 354.5], "nice": false, "zero": false},
                      "axis": {"orient": "top", "offset": -13, "values": [500,1000,1500,2000,2500,3000,3500,4000,4500,5000,5500], "labels": false, "title": null, "tickSize": -5, "grid": true, "gridColor": "#e0d9ce", "zindex": 1}},
                "y": {"field": "err", "type": "quantitative", "scale": {"domain": [0, 16], "range": [123, 13], "nice": false},
                      "axis": {"orient": "right", "offset": -231.5, "values": [0,4,8,12,16], "labels": false, "title": null, "tickSize": -5, "grid": false, "zindex": 1}},
                "shape": {"field": "series", "type": "nominal", "scale": {"domain": ["Measured","Proposed","FEM","Method in [25]"], "range": ["M-0.6,-0.6H0.6V0.6H-0.6Z","M1,0A1,1 0 1,1 -1,0A1,1 0 1,1 1,0Z","M-1,0H1M0,-1V1","M-0.75,-0.75H0.75V0.75H-0.75Z"]}, "legend": null},
                "stroke": {"field": "series", "type": "nominal", "scale": {"domain": ["Measured","Proposed","FEM","Method in [25]"], "range": ["#bfbf00","#ff00ff","#0000ff","#008000"]}, "legend": null},
                "fill": {"field": "series", "type": "nominal", "scale": {"domain": ["Measured","Proposed","FEM","Method in [25]"], "range": ["#bfbf00","transparent","transparent","transparent"]}, "legend": null}
              }
            },
            {
              "data": {"values": [{}]},
              "mark": {"type": "text", "align": "left", "baseline": "alphabetic", "fontSize": 19, "lineHeight": 22, "color": "#000000"},
              "encoding": {
                "x": {"datum": 6142, "type": "quantitative", "scale": {"domain": [500, 5500], "range": [58.5, 354.5], "nice": false, "zero": false}, "axis": null},
                "y": {"datum": 10.36, "type": "quantitative", "scale": {"domain": [0, 16], "range": [123, 13], "nice": false}, "axis": null},
                "text": {"value": ["Error analysis", "curves"]}
              }
            },
            {
              "data": {"values": [{}]},
              "mark": {"type": "rule", "color": "#000000", "strokeWidth": 1},
              "encoding": {
                "x": {"datum": 6024, "type": "quantitative", "scale": {"domain": [500, 5500], "range": [58.5, 354.5], "nice": false, "zero": false}, "axis": null},
                "y": {"datum": 9.45, "type": "quantitative", "scale": {"domain": [0, 16], "range": [123, 13], "nice": false}, "axis": null},
                "x2": {"datum": 5500}, "y2": {"datum": 6.84}
              }
            },
            {
              "data": {"values": [{}]},
              "mark": {"type": "point", "shape": "M0,0L-1,-0.38L-0.75,0L-1,0.38Z", "filled": true, "color": "#000000", "size": 400, "angle": 150, "opacity": 1},
              "encoding": {
                "x": {"datum": 5500, "type": "quantitative", "scale": {"domain": [500, 5500], "range": [58.5, 354.5], "nice": false, "zero": false}, "axis": null},
                "y": {"datum": 6.84, "type": "quantitative", "scale": {"domain": [0, 16], "range": [123, 13], "nice": false}, "axis": null}
              }
            }
          ]
        }
      ]
    },
    {
      "width": 577, "height": 298,
      "title": {"text": "(d) Comparative results and errors under 588 A input current", "orient": "bottom", "anchor": "middle", "frame": "group", "offset": 5, "dx": -18},
      "resolve": {"scale": {"x": "independent", "y": "independent", "color": "independent", "stroke": "independent", "fill": "independent", "shape": "independent", "strokeDash": "independent"}, "axis": {"x": "independent", "y": "independent"}},
      "layer": [
        {
          "resolve": {"scale": {"color": "independent", "stroke": "independent", "fill": "independent", "shape": "independent", "strokeDash": "independent"}, "axis": {"x": "independent", "y": "independent"}},
          "layer": [
            {
              "data": {"name": "losses"},
              "transform": [{"filter": "datum.panel === 'd'"}],
              "mark": {"type": "line", "strokeWidth": 3},
              "encoding": {
                "x": {"field": "speed", "type": "quantitative", "scale": {"domain": [500, 5500], "nice": false, "zero": false},
                      "axis": {"orient": "bottom", "values": [500,1000,1500,2000,2500,3000,3500,4000,4500,5000,5500], "format": "d", "title": "Speed (rpm)", "labelFontSize": 20, "titleFontSize": 22, "tickSize": -6, "labelPadding": 15, "titlePadding": 1, "grid": true}},
                "y": {"field": "loss", "type": "quantitative", "scale": {"domain": [0, 800], "nice": false},
                      "axis": {"orient": "left", "values": [0,100,200,300,400,500,600,700,800], "title": "Iron losses (W)", "labelFontSize": 20, "titleFontSize": 22, "tickSize": -6, "labelPadding": 14, "titlePadding": 6, "grid": true}},
                "color": {"field": "series", "type": "nominal", "scale": {"domain": ["Measured","Proposed","FEM","Method in [25]"], "range": ["#bfbf00","#ff00ff","#0000ff","#008000"]}, "legend": null},
                "strokeDash": {"field": "series", "type": "nominal", "scale": {"domain": ["Measured","Proposed","FEM","Method in [25]"], "range": [[1,0],[15,7],[4,4.5],[18,9]]}, "legend": null}
              }
            },
            {
              "data": {"name": "losses"},
              "transform": [{"filter": "datum.panel === 'd'"}],
              "mark": {"type": "point", "strokeWidth": 2.5, "size": 144, "opacity": 1},
              "encoding": {
                "x": {"field": "speed", "type": "quantitative", "scale": {"domain": [500, 5500], "nice": false, "zero": false},
                      "axis": {"orient": "top", "values": [500,1000,1500,2000,2500,3000,3500,4000,4500,5000,5500], "labels": false, "title": null, "tickSize": -6, "grid": false}},
                "y": {"field": "loss", "type": "quantitative", "scale": {"domain": [0, 800], "nice": false},
                      "axis": {"orient": "right", "values": [0,100,200,300,400,500,600,700,800], "labels": false, "title": null, "tickSize": -6, "grid": false}},
                "shape": {"field": "series", "type": "nominal", "scale": {"domain": ["Measured","Proposed","FEM","Method in [25]"], "range": ["M-0.6,-0.6H0.6V0.6H-0.6Z","M1,0A1,1 0 1,1 -1,0A1,1 0 1,1 1,0Z","M-1,0H1M0,-1V1","M-0.75,-0.75H0.75V0.75H-0.75Z"]}, "legend": null},
                "stroke": {"field": "series", "type": "nominal", "scale": {"domain": ["Measured","Proposed","FEM","Method in [25]"], "range": ["#bfbf00","#ff00ff","#0000ff","#008000"]}, "legend": null},
                "fill": {"field": "series", "type": "nominal", "scale": {"domain": ["Measured","Proposed","FEM","Method in [25]"], "range": ["#bfbf00","transparent","transparent","transparent"]}, "legend": null}
              }
            },
            {
              "data": {"name": "losses"},
              "transform": [{"filter": "datum.panel === 'key'"}],
              "mark": {"type": "point", "strokeWidth": 3, "size": 144, "opacity": 1},
              "encoding": {
                "color": {"field": "series", "type": "nominal", "scale": {"domain": ["Measured","Proposed","FEM","Method in [25]"], "range": ["#bfbf00","#ff00ff","#0000ff","#008000"]}, "legend": {"legendX": 385.5, "legendY": 182}},
                "shape": {"field": "series", "type": "nominal", "scale": {"domain": ["Measured","Proposed","FEM","Method in [25]"], "range": ["M-3,0H3M-0.6,-0.6H0.6V0.6H-0.6Z","M-3,0H-1M1.8,0H3M1,0A1,1 0 1,1 -1,0A1,1 0 1,1 1,0Z","M-3,0H-2.5M-2,0H-1.5M-1,0H1M0,-1V1M1.5,0H2M2.5,0H3","M-3,0H-0.75M1.8,0H3M-0.75,-0.75H0.75V0.75H-0.75Z"]}, "legend": {"legendX": 385.5, "legendY": 182}},
                "fill": {"field": "series", "type": "nominal", "scale": {"domain": ["Measured","Proposed","FEM","Method in [25]"], "range": ["#bfbf00","transparent","transparent","transparent"]}, "legend": {"legendX": 385.5, "legendY": 182}}
              }
            }
          ]
        },
        {
          "resolve": {"axis": {"x": "independent", "y": "independent"}},
          "layer": [
            {
              "data": {"values": [{}]},
              "mark": {"type": "rect", "fill": "#fcf3e7"},
              "encoding": {
                "x": {"datum": 500, "type": "quantitative", "scale": {"domain": [500, 5500], "range": [57.2, 349.5], "nice": false, "zero": false}, "axis": null},
                "x2": {"datum": 5500},
                "y": {"datum": 0, "type": "quantitative", "scale": {"domain": [0, 16], "range": [115, 7], "nice": false}, "axis": null},
                "y2": {"datum": 16}
              }
            },
            {
              "data": {"name": "errors"},
              "transform": [{"filter": "datum.panel === 'd'"}],
              "mark": {"type": "line", "strokeWidth": 3},
              "encoding": {
                "x": {"field": "speed", "type": "quantitative", "scale": {"domain": [500, 5500], "range": [57.2, 349.5], "nice": false, "zero": false},
                      "axis": {"orient": "bottom", "offset": -183, "values": [500,1000,1500,2000,2500,3000,3500,4000,4500,5000,5500], "format": "d", "labelExpr": "datum.value % 1000 === 500 ? datum.label : ''", "title": "Speed (rpm)", "labelFontSize": 17.5, "titleFontSize": 20, "tickSize": -5, "labelPadding": 13, "titlePadding": 6, "grid": false, "zindex": 1}},
                "y": {"field": "err", "type": "quantitative", "scale": {"domain": [0, 16], "range": [115, 7], "nice": false},
                      "axis": {"orient": "left", "offset": -57.2, "values": [0,4,8,12,16], "title": "Errors (%)", "labelFontSize": 17.5, "titleFontSize": 20, "tickSize": -5, "labelPadding": 13, "titlePadding": 0, "grid": true, "gridColor": "#e0d9ce", "zindex": 1}},
                "stroke": {"field": "series", "type": "nominal", "scale": {"domain": ["Measured","Proposed","FEM","Method in [25]"], "range": ["#bfbf00","#ff00ff","#0000ff","#008000"]}, "legend": null},
                "strokeDash": {"field": "series", "type": "nominal", "scale": {"domain": ["Proposed","FEM","Method in [25]"], "range": [[1,0],[4,4.5],[14,7]]}, "legend": null}
              }
            },
            {
              "data": {"name": "errors"},
              "transform": [{"filter": "datum.panel === 'd'"}],
              "mark": {"type": "point", "strokeWidth": 2.5, "size": 144, "opacity": 1},
              "encoding": {
                "x": {"field": "speed", "type": "quantitative", "scale": {"domain": [500, 5500], "range": [57.2, 349.5], "nice": false, "zero": false},
                      "axis": {"orient": "top", "offset": -7, "values": [500,1000,1500,2000,2500,3000,3500,4000,4500,5000,5500], "labels": false, "title": null, "tickSize": -5, "grid": true, "gridColor": "#e0d9ce", "zindex": 1}},
                "y": {"field": "err", "type": "quantitative", "scale": {"domain": [0, 16], "range": [115, 7], "nice": false},
                      "axis": {"orient": "right", "offset": -227.5, "values": [0,4,8,12,16], "labels": false, "title": null, "tickSize": -5, "grid": false, "zindex": 1}},
                "shape": {"field": "series", "type": "nominal", "scale": {"domain": ["Measured","Proposed","FEM","Method in [25]"], "range": ["M-0.6,-0.6H0.6V0.6H-0.6Z","M1,0A1,1 0 1,1 -1,0A1,1 0 1,1 1,0Z","M-1,0H1M0,-1V1","M-0.75,-0.75H0.75V0.75H-0.75Z"]}, "legend": null},
                "stroke": {"field": "series", "type": "nominal", "scale": {"domain": ["Measured","Proposed","FEM","Method in [25]"], "range": ["#bfbf00","#ff00ff","#0000ff","#008000"]}, "legend": null},
                "fill": {"field": "series", "type": "nominal", "scale": {"domain": ["Measured","Proposed","FEM","Method in [25]"], "range": ["#bfbf00","transparent","transparent","transparent"]}, "legend": null}
              }
            },
            {
              "data": {"values": [{}]},
              "mark": {"type": "text", "align": "left", "baseline": "alphabetic", "fontSize": 19, "lineHeight": 22, "color": "#000000"},
              "encoding": {
                "x": {"datum": 6184, "type": "quantitative", "scale": {"domain": [500, 5500], "range": [57.2, 349.5], "nice": false, "zero": false}, "axis": null},
                "y": {"datum": 11.6, "type": "quantitative", "scale": {"domain": [0, 16], "range": [115, 7], "nice": false}, "axis": null},
                "text": {"value": ["Error analysis", "curves"]}
              }
            },
            {
              "data": {"values": [{}]},
              "mark": {"type": "rule", "color": "#000000", "strokeWidth": 1},
              "encoding": {
                "x": {"datum": 6082, "type": "quantitative", "scale": {"domain": [500, 5500], "range": [57.2, 349.5], "nice": false, "zero": false}, "axis": null},
                "y": {"datum": 12.15, "type": "quantitative", "scale": {"domain": [0, 16], "range": [115, 7], "nice": false}, "axis": null},
                "x2": {"datum": 5500}, "y2": {"datum": 8.0}
              }
            },
            {
              "data": {"values": [{}]},
              "mark": {"type": "point", "shape": "M0,0L-1,-0.38L-0.75,0L-1,0.38Z", "filled": true, "color": "#000000", "size": 400, "angle": 140, "opacity": 1},
              "encoding": {
                "x": {"datum": 5500, "type": "quantitative", "scale": {"domain": [500, 5500], "range": [57.2, 349.5], "nice": false, "zero": false}, "axis": null},
                "y": {"datum": 8.0, "type": "quantitative", "scale": {"domain": [0, 16], "range": [115, 7], "nice": false}, "axis": null}
              }
            }
          ]
        }
      ]
    }
  ]
}
